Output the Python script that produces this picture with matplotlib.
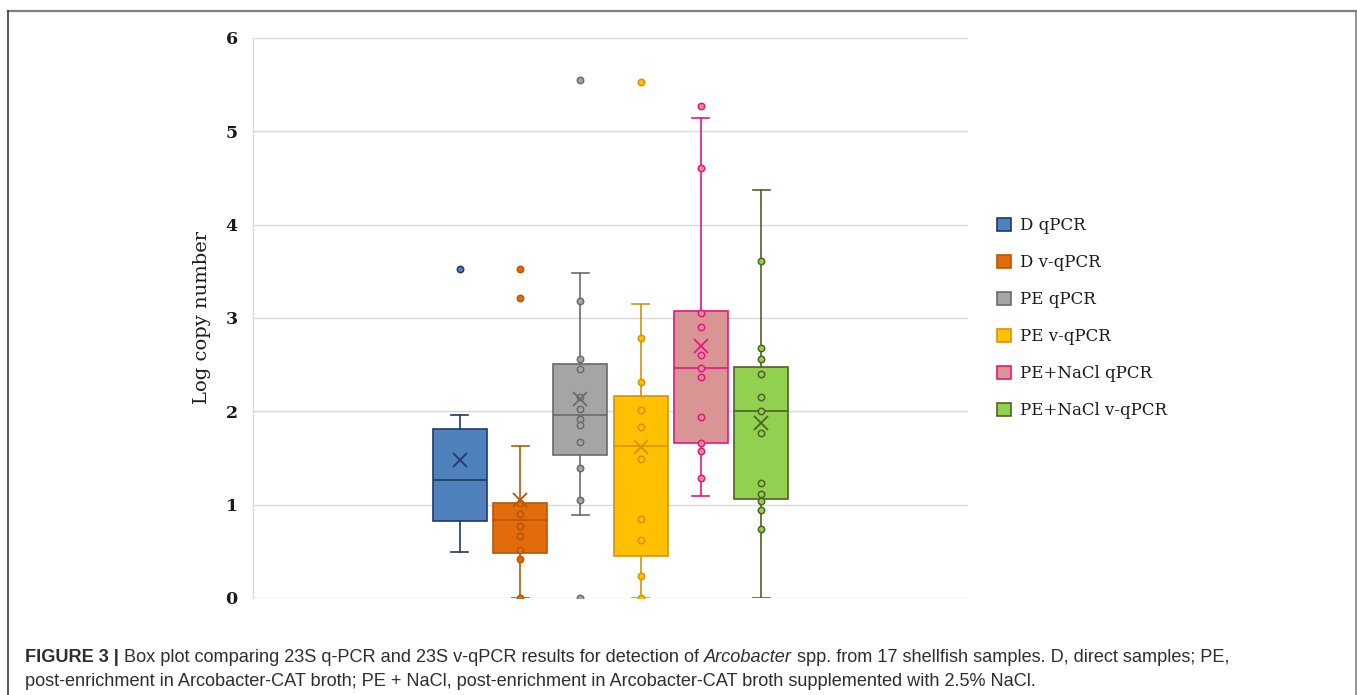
import matplotlib
matplotlib.use("Agg")
import matplotlib.pyplot as plt
from matplotlib.patches import Patch
from matplotlib.lines import Line2D

# ---------------- data ----------------
categories = ["D qPCR", "D v-qPCR", "PE qPCR", "PE v-qPCR", "PE+NaCl qPCR", "PE+NaCl v-qPCR"]
q1 = [0.83, 0.48, 1.53, 0.45, 1.665, 1.06]
medians = [1.26, 0.835, 1.96, 1.63, 2.46, 2.00]
q3 = [1.81, 1.02, 2.51, 2.16, 3.075, 2.48]
whisker_low = [0.49, 0.0, 0.89, 0.0, 1.09, 0.0]
whisker_high = [1.96, 1.63, 3.48, 3.15, 5.14, 4.37]
means = [1.48, 1.045, 2.135, 1.62, 2.70, 1.87]
outliers = [[3.53], [3.53, 3.21], [5.55, 0.0], [5.53], [5.27], []]
inner_points = [
    [],
    [1.02, 0.90, 0.77, 0.66, 0.515, 0.42, 0.0],
    [3.18, 2.56, 2.45, 2.15, 2.02, 1.92, 1.85, 1.67, 1.39, 1.045],
    [2.79, 2.31, 2.015, 1.83, 1.49, 0.846, 0.62, 0.237, 0.0],
    [4.61, 3.05, 2.90, 2.605, 2.46, 2.365, 1.94, 1.665, 1.58, 1.29],
    [3.61, 2.68, 2.56, 2.395, 2.15, 2.0, 1.77, 1.23, 1.11, 1.035, 0.94, 0.737],
]
y_ticks = [0, 1, 2, 3, 4, 5, 6]
y_label = "Log copy number"

face_colors = ["#4F81BD", "#E36C0A", "#A5A5A5", "#FFC000", "#D99594", "#92D050"]
edge_colors = ["#1F3B68", "#B8560C", "#6B6B6B", "#D4930C", "#E8167E", "#4F6228"]

# ---------------- figure ----------------
W, H = 1357, 695
fig = plt.figure(figsize=(W / 100, H / 100), dpi=100)
fig.patch.set_facecolor("white")

ax = fig.add_axes([253 / W, 1 - 598 / H, (968 - 253) / W, (598 - 38) / H])
positions = list(range(1, len(categories) + 1))

stats = []
for i, c in enumerate(categories):
    stats.append(dict(label=c, q1=q1[i], med=medians[i], q3=q3[i],
                      whislo=whisker_low[i], whishi=whisker_high[i],
                      mean=means[i], fliers=[]))

bp = ax.bxp(stats, positions=positions, widths=0.9, patch_artist=True,
            showmeans=True, showfliers=False, capwidths=0.28, manage_ticks=False,
            zorder=3)

lw = 1.2
for i in range(len(categories)):
    fc, ec = face_colors[i], edge_colors[i]
    b = bp["boxes"][i]
    b.set_facecolor(fc)
    b.set_edgecolor(ec)
    b.set_linewidth(lw)
    bp["medians"][i].set_color(ec)
    bp["medians"][i].set_linewidth(lw)
    for w in bp["whiskers"][2 * i:2 * i + 2]:
        w.set_color(ec)
        w.set_linewidth(lw)
    for cp in bp["caps"][2 * i:2 * i + 2]:
        cp.set_color(ec)
        cp.set_linewidth(lw)
    m = bp["means"][i]
    m.set_marker("x")
    m.set_markersize(10)
    m.set_markeredgecolor(ec)
    m.set_markeredgewidth(1.3)
    m.set_zorder(6)
    pts = inner_points[i]
    if pts:
        ax.plot([positions[i]] * len(pts), pts, linestyle="none", marker="o",
                markersize=4.6, markerfacecolor=fc, markeredgecolor=ec,
                markeredgewidth=1.1, zorder=5)
    outs = outliers[i]
    if outs:
        ax.plot([positions[i]] * len(outs), outs, linestyle="none", marker="o",
                markersize=4.6, markerfacecolor=fc, markeredgecolor=ec,
                markeredgewidth=1.1, zorder=5)

ax.set_xlim(3.5 - 5.93, 3.5 + 5.93)
ax.set_ylim(0, 6)
ax.set_yticks(y_ticks)
ax.set_yticklabels([str(t) for t in y_ticks], fontfamily="DejaVu Serif",
                   fontweight="bold", fontsize=12.5, color="#1a1a1a")
ax.set_xticks([])
ax.tick_params(axis="y", length=0, pad=11)
ax.grid(axis="y", color="#D9D9D9", linewidth=1.0, zorder=0)
ax.set_axisbelow(True)
for s in ["top", "right", "bottom"]:
    ax.spines[s].set_visible(False)
ax.spines["left"].set_color("#D9D9D9")
ax.spines["left"].set_linewidth(1.0)
ax.set_ylabel(y_label, fontfamily="DejaVu Serif", fontsize=14, color="#1a1a1a")
ax.yaxis.set_label_coords((211 - 253) / (968 - 253), 0.5)

# legend
handles = [Patch(facecolor=face_colors[i], edgecolor=edge_colors[i], linewidth=1.2)
           for i in range(len(categories))]
leg = fig.legend(handles, categories, loc="upper left",
                 bbox_to_anchor=(997 / W, 1 - 217 / H), frameon=False,
                 prop={"family": "DejaVu Serif", "size": 12},
                 handlelength=0.85, handleheight=0.85, handletextpad=0.55,
                 labelspacing=1.2, borderpad=0, borderaxespad=0)
for t in leg.get_texts():
    t.set_color("#1a1a1a")

# frame lines
fig.add_artist(Line2D([7.5 / W, 1355.5 / W], [1 - 10.5 / H, 1 - 10.5 / H],
                      color="#808080", linewidth=1.6))
fig.add_artist(Line2D([7.5 / W, 7.5 / W], [0, 1 - 10.5 / H],
                      color="#3a3a3a", linewidth=1.2))
fig.add_artist(Line2D([1355.5 / W, 1355.5 / W], [0, 1 - 10.5 / H],
                      color="#808080", linewidth=1.2))

# caption
renderer = fig.canvas.get_renderer()
cap_font = "Liberation Sans"
cap_size = 13.1
cap_color = "#2e2e2e"


def draw_runs(runs, x_px, y_px):
    x = x_px
    for txt, kw in runs:
        t = fig.text(x / W, 1 - y_px / H, txt, fontfamily=cap_font, fontsize=cap_size,
                     color=cap_color, va="baseline", ha="left", **kw)
        bb = t.get_window_extent(renderer)
        x += bb.width


line1 = [("FIGURE 3 |", {"fontweight": "bold"}),
         (" Box plot comparing 23S q-PCR and 23S v-qPCR results for detection of ", {}),
         ("Arcobacter", {"fontstyle": "italic"}),
         (" spp. from 17 shellfish samples. D, direct samples; PE,", {})]
line2 = [("post-enrichment in Arcobacter-CAT broth; PE + NaCl, post-enrichment in "
          "Arcobacter-CAT broth supplemented with 2.5% NaCl.", {})]
draw_runs(line1, 25, 662)
draw_runs(line2, 25, 686)

fig.savefig("out.png", dpi=100)
